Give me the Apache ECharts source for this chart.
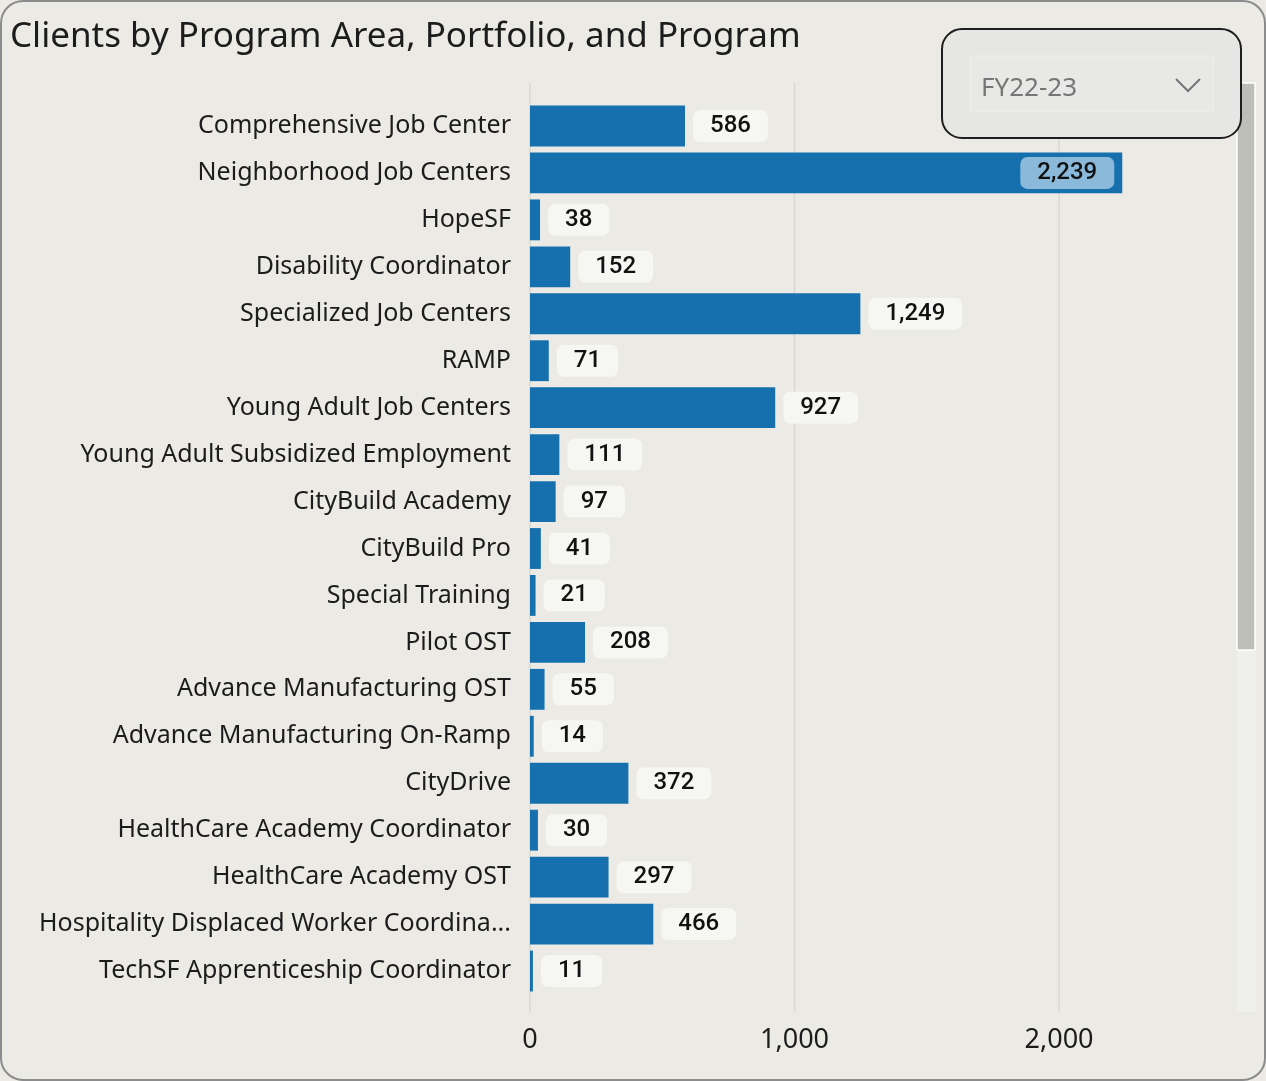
<!DOCTYPE html>
<html>
<head>
<meta charset="utf-8">
<script src="https://cdn.jsdelivr.net/npm/echarts@6/dist/echarts.min.js"></script>
<style>
  html, body { margin: 0; padding: 0; background: #ffffff; }
  #chart { width: 1266px; height: 1081px; }
</style>
</head>
<body>
<div id="chart"></div>
<script>
// program names, top to bottom
const categories = [
  'Comprehensive Job Center',
  'Neighborhood Job Centers',
  'HopeSF',
  'Disability Coordinator',
  'Specialized Job Centers',
  'RAMP',
  'Young Adult Job Centers',
  'Young Adult Subsidized Employment',
  'CityBuild Academy',
  'CityBuild Pro',
  'Special Training',
  'Pilot OST',
  'Advance Manufacturing OST',
  'Advance Manufacturing On-Ramp',
  'CityDrive',
  'HealthCare Academy Coordinator',
  'HealthCare Academy OST',
  'Hospitality Displaced Worker Coordina...',
  'TechSF Apprenticeship Coordinator'
];
const clients = [586, 2239, 38, 152, 1249, 71, 927, 111, 97, 41, 21, 208, 55, 14, 372, 30, 297, 466, 11];
const xTicks = [0, 1000, 2000];
const fiscalYear = 'FY22-23';

const BLUE = '#1670ae';
const fmt = v => v.toLocaleString('en-US');

const chart = echarts.init(document.getElementById('chart'));

chart.setOption({
  backgroundColor: '#ebeae4',
  animation: false,
  title: {
    text: 'Clients by Program Area, Portfolio, and Program',
    left: 10,
    top: 20,
    padding: 0,
    textStyle: { fontFamily: 'Noto Sans', fontSize: 35, fontWeight: 'normal', color: '#1c1c1c' }
  },
  grid: { left: 530, right: 30, top: 102.5, height: 892 },
  xAxis: {
    type: 'value',
    min: 0,
    max: 2669,
    interval: 1000,
    axisLine: { show: false },
    axisTick: { show: false },
    splitLine: { show: false },
    axisLabel: {
      showMaxLabel: false,
      margin: 32,
      fontFamily: 'Noto Sans',
      fontSize: 27,
      color: '#1c1c1c',
      formatter: v => xTicks.includes(v) ? fmt(v) : ''
    }
  },
  yAxis: {
    type: 'category',
    inverse: true,
    data: categories,
    axisLine: { show: false },
    axisTick: { show: false },
    axisLabel: { margin: 19, fontFamily: 'Noto Sans', fontSize: 25, color: '#1c1c1c' }
  },
  series: [{
    type: 'bar',
    barCategoryGap: '13%',
    itemStyle: { color: BLUE },
    z: 3,
    label: {
      show: true,
      position: 'right',
      distance: 8,
      formatter: p => fmt(p.value),
      fontFamily: 'Roboto',
      fontWeight: 500,
      fontSize: 24,
      color: '#111',
      backgroundColor: '#f6f6f2',
      borderRadius: 7,
      padding: [4, 17]
    },
    data: clients.map(v => v > 2100 ? {
      value: v,
      label: { position: 'insideRight', distance: 8, backgroundColor: '#8bb9da' }
    } : v)
  }]
});

// gridlines, scrollbar, slicer and frame
const top0 = 83, bottom0 = 1012;
const gridLines = xTicks.map(t => {
  const x = chart.convertToPixel({ xAxisIndex: 0 }, t);
  return {
    type: 'line', z: 0, silent: true,
    shape: { x1: x, y1: top0, x2: x, y2: bottom0 },
    style: { stroke: '#d9d8d1', lineWidth: 1.5 }
  };
});

chart.setOption({
  graphic: gridLines.concat([
    { type: 'rect', z: 1, shape: { x: 1237, y: top0, width: 19, height: bottom0 - top0 },
      style: { fill: '#efefeb' } },
    { type: 'rect', z: 2, shape: { x: 1237, y: top0, width: 18, height: 567 },
      style: { fill: '#bebeb9', stroke: '#ffffff', lineWidth: 1.5 } },
    { type: 'rect', z: 10, shape: { x: 942, y: 29, width: 299, height: 109, r: 20 },
      style: { fill: '#e6e6e5', stroke: '#1e1e1e', lineWidth: 2 } },
    { type: 'rect', z: 11, shape: { x: 970, y: 56, width: 243, height: 55 },
      style: { fill: '#e8e8e6', stroke: '#efefed', lineWidth: 1 } },
    { type: 'text', z: 12, x: 981, y: 89,
      style: { text: fiscalYear, fill: '#767676', font: '26px "Noto Sans"', verticalAlign: 'middle' } },
    { type: 'polyline', z: 12, shape: { points: [[1176, 79], [1188, 91], [1200, 79]] },
      style: { stroke: '#767676', lineWidth: 2, fill: null } },
    { type: 'rect', z: 20, silent: true, shape: { x: 1, y: 1, width: 1264, height: 1079, r: 22 },
      style: { fill: null, stroke: '#8c8c8c', lineWidth: 2 } }
  ])
});
</script>
</body>
</html>
